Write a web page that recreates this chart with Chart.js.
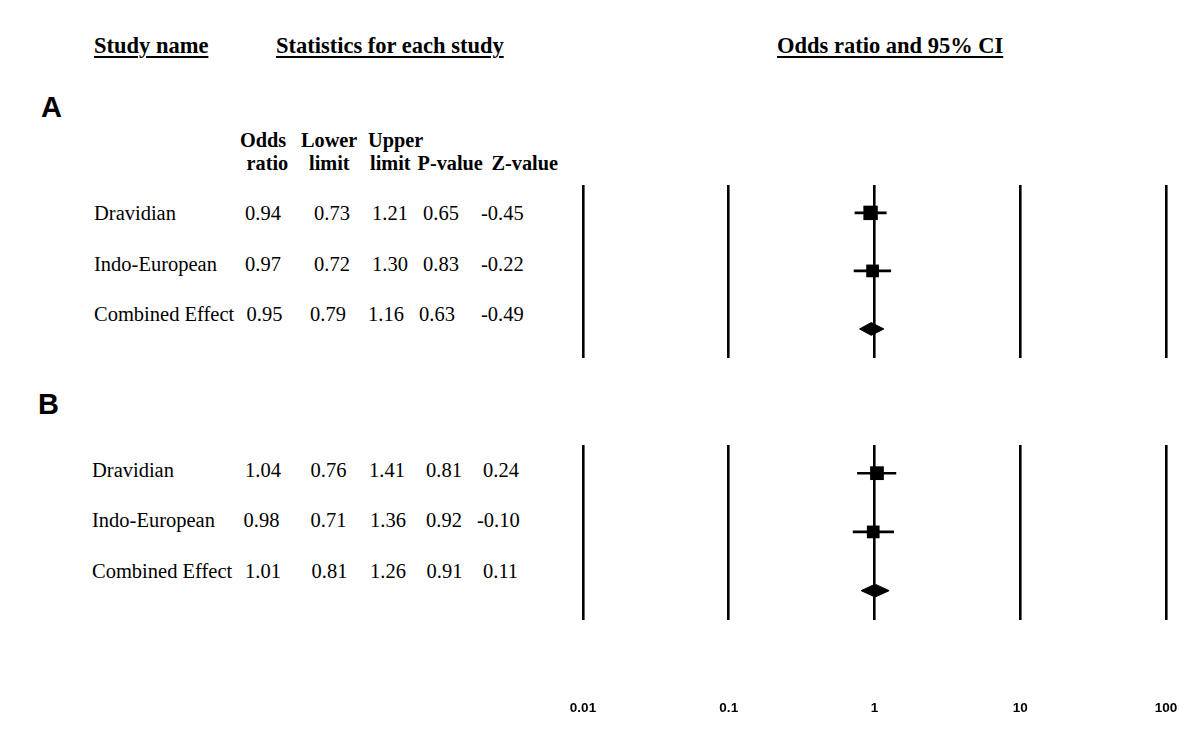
<!DOCTYPE html>
<html><head><meta charset="utf-8">
<script src="https://cdn.jsdelivr.net/npm/chart.js@4.4.1/dist/chart.umd.min.js"></script>
<style>
html,body{margin:0;padding:0;background:#fff;width:1200px;height:735px;overflow:hidden;position:relative}
.t{position:absolute;white-space:nowrap;color:#000;line-height:1}
.serif{font-family:"Liberation Serif","Times New Roman",serif}
.sans{font-family:"Liberation Sans",Arial,sans-serif;font-weight:bold}
canvas{position:absolute}
</style></head><body>
<canvas id="cA" width="640" height="200" style="left:560px;top:170px"></canvas>
<canvas id="cB" width="640" height="305" style="left:560px;top:430px"></canvas>
<script>
// ---------- data ----------
const studyNames = ['Dravidian', 'Indo-European', 'Combined Effect'];
const oddsA  = [0.94, 0.97, 0.95];
const lowerA = [0.73, 0.72, 0.79];
const upperA = [1.21, 1.30, 1.16];
const pA     = [0.65, 0.83, 0.63];
const zA     = [-0.45, -0.22, -0.49];
const oddsB  = [1.04, 0.98, 1.01];
const lowerB = [0.76, 0.71, 0.81];
const upperB = [1.41, 1.36, 1.26];
const pB     = [0.81, 0.92, 0.91];
const zB     = [0.24, -0.10, 0.11];
const tickValues = [0.01, 0.1, 1, 10, 100];
const tickLabels = ['0.01', '0.1', '1', '10', '100'];
const headerTitles = ['Study name', 'Statistics for each study', 'Odds ratio and 95% CI'];
const colHeadTop = ['Odds', 'Lower', 'Upper'];
const colHeadBottom = ['ratio', 'limit', 'limit', 'P-value', 'Z-value'];
const panelLabels = ['A', 'B'];

// ---------- text helpers ----------
function addText(str, left, baseline, size, cls, extra) {
  const d = document.createElement('div');
  d.className = 't ' + cls;
  const k = cls.indexOf('sans') >= 0 ? 0.8465 : 0.8375;
  d.style.left = left + 'px';
  d.style.top = (baseline - k * size) + 'px';
  d.style.fontSize = size + 'px';
  if (extra) d.style.cssText += extra;
  d.textContent = str;
  document.body.appendChild(d);
}
const hdrStyle = 'font-weight:bold;text-decoration:underline;text-decoration-thickness:2px;text-underline-offset:3px;';
[94, 276, 777].forEach((x, i) => addText(headerTitles[i], x, 54, 22.5, 'serif', hdrStyle));
addText(panelLabels[0], 41, 118, 29, 'sans');
addText(panelLabels[1], 38, 415, 29, 'sans');
[240, 301, 368].forEach((x, i) => addText(colHeadTop[i], x, 147, 20.3, 'serif', 'font-weight:bold;'));
[246.5, 309, 370, 417.5, 491.5].forEach((x, i) => addText(colHeadBottom[i], x, 170.5, 20.3, 'serif', 'font-weight:bold;'));

function table(names, odds, lower, upper, p, z, nameX, colX, baselines) {
  names.forEach((n, i) => {
    addText(n, nameX, baselines[i], 20.5, 'serif');
    const vals = [odds[i], lower[i], upper[i], p[i], z[i]];
    vals.forEach((v, j) => addText(v.toFixed(2), colX[i][j], baselines[i], 20.5, 'serif'));
  });
}
table(studyNames, oddsA, lowerA, upperA, pA, zA, 94,
  [[245, 314, 372, 423, 481], [245, 314, 372, 423, 481], [246.5, 310, 368, 419, 481]],
  [220, 271, 321]);
table(studyNames, oddsB, lowerB, upperB, pB, zB, 92,
  [[245, 310.5, 369, 426, 483], [243.5, 310.5, 370, 426, 477], [245, 311.5, 370, 426.5, 483]],
  [477, 527.5, 578]);

// ---------- charts ----------
const DIAMOND_HALF = 0.11;
function makePanel(id, odds, lower, upper, radii, showTicks, pad, axisH) {
  const nStudies = odds.length - 1;
  const ds = [];
  ds.push({
    data: odds.slice(0, nStudies).map((v, i) => ({ x: v, y: i })),
    pointStyle: 'rect', pointRadius: radii, pointHoverRadius: radii,
    backgroundColor: '#000', borderColor: '#000', borderWidth: 0, showLine: false
  });
  for (let i = 0; i < nStudies; i++) {
    ds.push({
      data: [{ x: lower[i], y: i }, { x: upper[i], y: i }],
      showLine: true, borderColor: '#000', borderWidth: 2.6, pointRadius: 0, fill: false
    });
  }
  const c = nStudies;
  ds.push({
    data: [{ x: lower[c], y: c }, { x: odds[c], y: c - DIAMOND_HALF }, { x: upper[c], y: c },
           { x: odds[c], y: c + DIAMOND_HALF }, { x: lower[c], y: c }],
    showLine: true, fill: 'shape', backgroundColor: '#000', borderColor: '#000',
    borderWidth: 1, pointRadius: 0, tension: 0
  });
  return new Chart(document.getElementById(id), {
    type: 'scatter',
    data: { datasets: ds },
    options: {
      responsive: false, animation: false, devicePixelRatio: 1,
      layout: { padding: pad },
      plugins: { legend: { display: false }, tooltip: { enabled: false } },
      scales: {
        x: {
          type: 'logarithmic', min: 0.01, max: 100,
          afterBuildTicks: s => { s.ticks = tickValues.map(v => ({ value: v })); },
          afterFit: s => { s.height = axisH; s.paddingLeft = 0; s.paddingRight = 0; },
          grid: { color: '#000', lineWidth: 2.6, drawTicks: false },
          border: { display: false },
          ticks: {
            display: showTicks, padding: 80, autoSkip: false, maxRotation: 0, minRotation: 0, color: '#000',
            font: { family: '"Liberation Sans", Arial, sans-serif', weight: 'bold', size: 13.5 },
            callback: (v, i) => tickLabels[i]
          }
        },
        y: { type: 'linear', reverse: true, min: -0.48, max: 2.5, display: false }
      }
    }
  });
}
makePanel('cA', oddsA, lowerA, upperA, [10.2, 9], false, { left: 23, right: 34, top: 15, bottom: 12 }, 0);
makePanel('cB', oddsB, lowerB, upperB, [9.7, 9], true, { left: 23, right: 34, top: 15, bottom: 0 }, 115);
</script>
</body></html>
